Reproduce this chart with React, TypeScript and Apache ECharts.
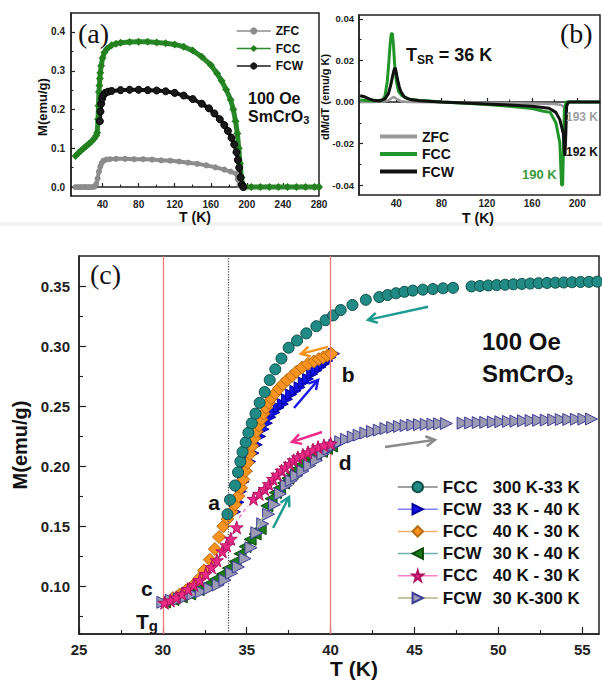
import React, { useEffect, useRef } from "react";
import * as echarts from "echarts";

type P = [number, number];
const F = '"Liberation Sans", Arial, Helvetica, sans-serif';
const SERIF = '"Liberation Serif", "Times New Roman", serif';

// ---------- Panel (a): M vs T ----------
const A_X_TICKS = [40, 80, 120, 160, 200, 240, 280];
const A_X_MINOR = [20, 60, 100, 140, 180, 220, 260];
const A_Y_TICKS = [0, 0.1, 0.2, 0.3, 0.4];
const A_Y_MINOR = [0.05, 0.15, 0.25, 0.35];
const A_ZFC: P[] = [[10,0],[13,0],[16,0],[19,0],[22,0],[25,0],[28,0],[31,0.001],[33,0.008],[34.5,0.022],[36,0.04],[37.5,0.053],[39,0.062],[41,0.068],[44,0.071],[48,0.072],[55,0.073],[65,0.073],[75,0.072],[85,0.072],[95,0.071],[105,0.069],[115,0.068],[125,0.066],[135,0.063],[145,0.06],[155,0.056],[165,0.051],[175,0.045],[182,0.04],[188,0.035],[190,0.02],[192,0.005],[195,0],[205,0],[215,0],[225,0],[235,0],[245,0],[255,0],[265,0],[275,0],[280,0]];
const A_FCC: P[] = [[10,0.08],[13,0.087],[16,0.094],[19,0.1],[22,0.106],[25,0.112],[28,0.118],[31,0.126],[33,0.133],[34,0.14],[35,0.175],[35.5,0.21],[36,0.245],[36.5,0.262],[37,0.28],[37.5,0.295],[38.5,0.313],[40,0.333],[42,0.347],[45,0.357],[50,0.366],[55,0.37],[60,0.372],[70,0.374],[80,0.375],[90,0.375],[100,0.373],[110,0.371],[120,0.368],[130,0.362],[140,0.352],[150,0.336],[160,0.315],[167,0.293],[172,0.274],[177,0.252],[182,0.225],[185,0.2],[187.5,0.17],[189.5,0.138],[191,0.1],[192.5,0.06],[194,0.025],[195.5,0.004],[198,0],[205,0],[215,0],[225,0],[235,0],[245,0],[255,0],[265,0],[275,0],[280,0]];
const A_FCW: P[] = [[37,0.17],[37.7,0.195],[38.5,0.215],[39.5,0.228],[41,0.237],[43,0.243],[46,0.246],[50,0.248],[60,0.25],[70,0.251],[80,0.251],[90,0.25],[100,0.249],[110,0.247],[120,0.243],[130,0.236],[140,0.227],[150,0.215],[158,0.203],[164,0.19],[170,0.175],[175,0.16],[179,0.145],[183,0.127],[186,0.11],[188.5,0.09],[190,0.07],[191.5,0.05],[193,0.025],[194.5,0.006],[196,0]];

// ---------- Panel (b): dM/dT vs T ----------
const B_X_TICKS = [40, 80, 120, 160, 200];
const B_X_MINOR = [20, 60, 100, 140, 180];
const B_Y_TICKS = [-0.04, -0.02, 0, 0.02, 0.04];
const B_Y_MINOR = [-0.03, -0.01, 0.01, 0.03];
const B_ZFC: P[] = [[8,0],[20,0],[30,0.0003],[34,0.001],[36,0.002],[38,0.0025],[40,0.0015],[44,0.0004],[50,0],[100,-0.0003],[150,-0.0006],[180,-0.001],[186,-0.0015],[189,-0.003],[190,-0.004],[191,-0.001],[193,0],[220,0]];
const B_FCC: P[] = [[8,0.001],[20,0.0005],[28,0.001],[30,0.003],[32,0.01],[33.5,0.02],[34.5,0.028],[35.5,0.0328],[36.5,0.033],[37.5,0.027],[38.5,0.018],[40,0.01],[42,0.005],[45,0.003],[50,0.0015],[60,0.0008],[80,0],[100,-0.0006],[120,-0.0012],[140,-0.002],[160,-0.0032],[170,-0.0045],[176,-0.005],[181,-0.01],[184.5,-0.0196],[186,-0.04],[187,-0.04],[187.8,-0.02],[188.5,-0.004],[190,0],[220,0]];
const B_FCW: P[] = [[8,0.003],[12,0.0025],[16,0.0015],[20,0.0008],[25,0.0005],[30,0.0015],[33,0.004],[35,0.008],[36.5,0.012],[38,0.0155],[39,0.0165],[40,0.014],[41,0.011],[42.5,0.0075],[44,0.005],[47,0.0025],[52,0.0012],[60,0.0006],[80,0],[100,-0.0005],[120,-0.001],[140,-0.0015],[160,-0.002],[175,-0.003],[181,-0.005],[184.5,-0.0085],[187.5,-0.015],[189,-0.026],[189.8,-0.015],[190.5,-0.002],[192,0],[220,0]];

// ---------- Panel (c): M vs T, thermal cycles ----------
const C_X_TICKS = [25, 30, 35, 40, 45, 50, 55];
const C_X_MINOR = [27.5, 32.5, 37.5, 42.5, 47.5, 52.5];
const C_Y_TICKS = [0.1, 0.15, 0.2, 0.25, 0.3, 0.35];
const C_Y_MINOR = [0.075, 0.125, 0.175, 0.225, 0.275, 0.325];
const C_REF_RED = [30, 40];
const C_REF_DOT = [33.9];
const C_FCC300: P[] = [[33.85,0.16],[34.0,0.172],[34.3,0.184],[34.48,0.195],[34.62,0.204],[34.75,0.212],[34.94,0.22],[35.1,0.228],[35.3,0.236],[35.52,0.244],[35.77,0.253],[36.07,0.262],[36.37,0.272],[36.7,0.281],[37.07,0.29],[37.5,0.299],[38.0,0.305],[38.55,0.311],[39.15,0.317],[39.7,0.322],[40.15,0.326],[40.6,0.3305],[41.3,0.3347],[42.1,0.339],[42.9,0.3413],[43.4,0.343],[43.9,0.3445],[44.4,0.3457],[44.9,0.3467],[45.5,0.3475],[46.1,0.348],[46.7,0.3486],[47.3,0.349],[48.4,0.3502],[48.9,0.3506],[49.4,0.351],[49.9,0.3513],[50.4,0.3516],[50.9,0.352],[51.4,0.3523],[51.9,0.3526],[52.4,0.3529],[52.9,0.3531],[53.4,0.3533],[53.9,0.3535],[54.4,0.3537],[54.9,0.3539],[55.4,0.354],[55.9,0.3542]];
const C_FCW33: P[] = [[34.3,0.162],[34.5,0.17],[34.65,0.179],[34.8,0.187],[35.0,0.196],[35.2,0.204],[35.4,0.211],[35.6,0.218],[35.8,0.225],[36.0,0.231],[36.2,0.236],[36.4,0.241],[36.65,0.245],[36.9,0.249],[37.15,0.252],[37.4,0.256],[37.65,0.26],[37.9,0.263],[38.15,0.266],[38.4,0.27],[38.65,0.273],[38.9,0.277],[39.15,0.28],[39.4,0.283],[39.6,0.2855],[39.8,0.288],[40.0,0.291],[40.2,0.294]];
const C_FCC40A: P[] = [[30.2,0.087],[30.6,0.09],[31.0,0.093],[31.4,0.0965],[31.8,0.1005],[32.15,0.106],[32.45,0.113],[32.8,0.122],[33.1,0.131],[33.35,0.141],[33.6,0.15],[33.85,0.156],[34.1,0.162],[34.3,0.168],[34.5,0.175],[34.66,0.182],[34.8,0.189],[34.94,0.196],[35.06,0.203],[35.2,0.2105],[35.32,0.217],[35.45,0.2235],[35.58,0.229],[35.72,0.234],[35.87,0.239],[36.0,0.244],[36.15,0.249],[36.3,0.253],[36.47,0.257],[36.7,0.261],[36.92,0.265],[37.15,0.2685],[37.4,0.272],[37.7,0.2755],[37.96,0.279],[38.3,0.2825],[38.65,0.2855],[39.0,0.2875],[39.3,0.2895],[39.55,0.291],[39.8,0.2925],[40.05,0.294]];
const C_FCW30: P[] = [[30.1,0.0868],[30.6,0.0888],[31.1,0.091],[31.6,0.0935],[32.1,0.097],[32.6,0.101],[33.1,0.1055],[33.55,0.11],[33.9,0.115],[34.3,0.1205],[34.6,0.127],[34.9,0.133],[35.2,0.139],[35.5,0.1435],[35.8,0.148],[36.2,0.167],[36.45,0.173],[36.7,0.178],[36.95,0.182],[37.2,0.186],[37.45,0.19],[37.7,0.194],[37.95,0.1975],[38.2,0.201],[38.5,0.204],[38.8,0.207],[39.1,0.2095],[39.45,0.2125],[39.75,0.215],[40.05,0.217]];
const C_FCC40B: P[] = [[30.1,0.0861],[30.45,0.088],[30.8,0.0905],[31.15,0.0935],[31.5,0.0975],[31.85,0.101],[32.2,0.105],[32.55,0.1102],[32.9,0.1158],[33.22,0.1215],[33.55,0.129],[33.8,0.134],[34.05,0.1395],[34.4,0.149],[35.4,0.1728],[35.75,0.177],[36.07,0.181],[36.32,0.185],[36.57,0.1894],[36.82,0.193],[37.07,0.1964],[37.3,0.199],[37.56,0.202],[37.8,0.205],[38.05,0.2075],[38.35,0.2095],[38.65,0.2117],[38.95,0.2138],[39.25,0.216],[39.6,0.2175],[40.0,0.219]];
const C_FCW300: P[] = [[30.0,0.0865],[30.5,0.0882],[31.0,0.0893],[31.4,0.091],[31.8,0.0932],[32.3,0.0953],[32.8,0.098],[33.3,0.101],[33.7,0.105],[34.1,0.1107],[34.5,0.116],[34.9,0.123],[35.25,0.132],[35.6,0.1445],[35.95,0.152],[36.3,0.16],[36.65,0.168],[37.0,0.177],[37.36,0.184],[37.65,0.188],[37.96,0.192],[38.35,0.196],[38.75,0.2006],[39.15,0.205],[39.54,0.2103],[39.9,0.2145],[40.25,0.2175],[40.6,0.2205],[40.95,0.2225],[41.35,0.2245],[41.7,0.226],[42.1,0.2278],[42.5,0.229],[42.9,0.2302],[43.3,0.2315],[43.7,0.2325],[44.1,0.2333],[44.5,0.234],[44.9,0.2345],[45.3,0.2348],[45.7,0.235],[46.1,0.2352],[46.5,0.2355],[46.9,0.2357],[47.9,0.236],[48.35,0.2362],[48.8,0.2365],[49.25,0.2367],[49.7,0.237],[50.15,0.2372],[50.6,0.2375],[51.05,0.2377],[51.5,0.238],[51.95,0.2382],[52.4,0.2384],[52.85,0.2386],[53.3,0.2388],[53.75,0.239],[54.2,0.2391],[54.65,0.2393],[55.1,0.2394],[55.55,0.2395]];
const C_LEGEND: [string, string, string][] = [
  ["c1", "FCC", "300 K-33 K"],
  ["c2", "FCW", "33 K - 40 K"],
  ["c3", "FCC", "40 K - 30 K"],
  ["c4", "FCW", "30 K - 40 K"],
  ["c5", "FCC", "40 K - 30 K"],
  ["c6", "FCW", "30 K-300 K"],
];
// annotation arrows in data coordinates of panel (c)
const C_ARROWS: { from: P; to: P; color: string }[] = [
  { from: [45.81, 0.3332], to: [42.23, 0.3223], color: "#1f9a90" },
  { from: [39.84, 0.2997], to: [38.23, 0.2939], color: "#f7941d" },
  { from: [37.82, 0.2487], to: [39.25, 0.2721], color: "#1a1ae6" },
  { from: [39.49, 0.2287], to: [37.7, 0.2203], color: "#ee2a8a" },
  { from: [36.57, 0.1485], to: [37.52, 0.1744], color: "#1f9a90" },
  { from: [43.24, 0.2161], to: [46.22, 0.222], color: "#8a8a8a" },
];
const C_DASHES: { from: P; to: P; color: string }[] = [
  { from: [34.55, 0.157], to: [35.05, 0.167], color: "#f080c8" },
  { from: [35.63, 0.1495], to: [35.99, 0.158], color: "#a8c8a0" },
];
const C_LETTERS: { t: string; at: P }[] = [
  { t: "a", at: [33.05, 0.1701] },
  { t: "b", at: [41.04, 0.2763] },
  { t: "c", at: [29.05, 0.0983] },
  { t: "d", at: [40.86, 0.2028] },
];
const C_TG: P = [29.05, 0.0708];

const STAR = "path://M50,0 L61,35 L98,35 L68,57 L79,91 L50,70 L21,91 L32,57 L2,35 L39,35 Z";

function valAxis(grid: number, min: number, max: number, ticks: number[], opts: any) {
  return {
    type: "value", gridIndex: grid, min, max,
    axisLine: { show: true, lineStyle: { color: "#222", width: 1.5 } },
    axisTick: { show: true, inside: true, length: opts.tickLen, customValues: ticks, lineStyle: { color: "#222", width: 1.2 } },
    axisLabel: { show: true, customValues: ticks, margin: opts.margin, fontFamily: F, fontWeight: "bold", fontSize: opts.fontSize, color: "#222", formatter: opts.fmt },
    splitLine: { show: false },
    position: opts.position,
  };
}
function minorAxis(grid: number, min: number, max: number, ticks: number[], len: number, position: string) {
  return {
    type: "value", gridIndex: grid, min, max, position,
    axisLine: { show: false },
    axisTick: { show: true, inside: true, length: len, customValues: ticks, lineStyle: { color: "#222", width: 1.1 } },
    axisLabel: { show: false },
    splitLine: { show: false },
  };
}

function cSeries(name: string, data: P[], symbol: string, size: number, fill: string, border: string, z: number, rotate = 0) {
  return {
    type: "line", name, xAxisIndex: 4, yAxisIndex: 4, data, symbol, symbolSize: size, symbolRotate: rotate,
    showSymbol: true, showAllSymbol: true, z,
    lineStyle: { width: 0, color: fill },
    itemStyle: { color: fill, borderColor: border, borderWidth: 1, opacity: 1 },
    emphasis: { disabled: true }, silent: true,
  };
}

export default function App() {
  const ref = useRef<HTMLDivElement>(null);
  useEffect(() => {
    const chart = echarts.init(ref.current!, null, { renderer: "svg" });
    const fmt1 = (v: number) => v.toFixed(1);
    const fmt2 = (v: number) => v.toFixed(2);
    const fmt0 = (v: number) => String(Math.round(v));
    const legendLine: Record<string, string> = { c1: "#808080", c2: "#8080ff", c3: "#f5b070", c4: "#70b0b0", c5: "#ff80c0", c6: "#b0b080" };
    const option: any = {
      animation: false,
      backgroundColor: "#fff",
      grid: [
        { left: 71, top: 13, width: 248, height: 183, show: true, borderColor: "#222", borderWidth: 1.5, backgroundColor: "transparent" },
        { left: 359, top: 15, width: 241, height: 180, show: true, borderColor: "#222", borderWidth: 1.5, backgroundColor: "transparent" },
        { left: 79, top: 256, width: 520, height: 378, show: true, borderColor: "#222", borderWidth: 1.5, backgroundColor: "transparent" },
      ],
      xAxis: [
        valAxis(0, 5, 280, A_X_TICKS, { tickLen: 4, margin: 3, fontSize: 10, fmt: fmt0, position: "bottom" }),
        minorAxis(0, 5, 280, A_X_MINOR, 2.5, "bottom"),
        valAxis(1, 7, 220, B_X_TICKS, { tickLen: 4, margin: 3, fontSize: 10, fmt: fmt0, position: "bottom" }),
        minorAxis(1, 7, 220, B_X_MINOR, 2.5, "bottom"),
        valAxis(2, 25, 56, C_X_TICKS, { tickLen: 7, margin: 8, fontSize: 15, fmt: fmt0, position: "bottom" }),
        minorAxis(2, 25, 56, C_X_MINOR, 4, "bottom"),
      ],
      yAxis: [
        valAxis(0, -0.023, 0.449, A_Y_TICKS, { tickLen: 4, margin: 6, fontSize: 10, fmt: fmt1, position: "left" }),
        minorAxis(0, -0.023, 0.449, A_Y_MINOR, 2.5, "left"),
        valAxis(1, -0.0448, 0.0419, B_Y_TICKS, { tickLen: 4, margin: 5, fontSize: 9.5, fmt: fmt2, position: "left" }),
        minorAxis(1, -0.0448, 0.0419, B_Y_MINOR, 2.5, "left"),
        valAxis(2, 0.06, 0.3756, C_Y_TICKS, { tickLen: 7, margin: 9, fontSize: 15, fmt: fmt2, position: "left" }),
        minorAxis(2, 0.06, 0.3756, C_Y_MINOR, 4, "left"),
      ],
      legend: [
        {
          orient: "vertical", left: 236, top: 24, padding: 0, itemWidth: 34, itemHeight: 9, itemGap: 3.5,
          data: ["ZFC", "FCC", "FCW"], selectedMode: false,
          textStyle: { fontSize: 12, fontWeight: "bold", fontFamily: F, color: "#111", lineHeight: 14 },
          lineStyle: { width: 1.5 },
        },
        {
          orient: "vertical", left: 380, top: 128, padding: 0, itemWidth: 37, itemHeight: 4, itemGap: 0.5,
          data: [
            { name: "bZFC", icon: "rect" }, { name: "bFCC", icon: "rect" }, { name: "bFCW", icon: "rect" },
          ], selectedMode: false,
          formatter: (n: string) => n.slice(1),
          textStyle: { fontSize: 14, fontWeight: "bold", fontFamily: F, color: "#111", lineHeight: 17 },
        },
        {
          orient: "vertical", left: 397, top: 478, padding: 0, itemWidth: 40, itemHeight: 13, itemGap: 4.2,
          data: C_LEGEND.map(([id]) => ({ name: id, lineStyle: { color: legendLine[id], width: 1.5, opacity: 1 } })),
          selectedMode: false,
          formatter: (n: string) => {
            const e = C_LEGEND.find((d) => d[0] === n)!;
            return `{a|${e[1]}}{b|${e[2]}}`;
          },
          textStyle: {
            fontSize: 17, fontWeight: "bold", fontFamily: F, color: "#111", lineHeight: 18,
            rich: {
              a: { width: 50, fontSize: 17, fontWeight: "bold", fontFamily: F, color: "#111" },
              b: { fontSize: 17, fontWeight: "bold", fontFamily: F, color: "#111" },
            },
          },
        },
      ],
      series: [
        { type: "line", name: "ZFC", xAxisIndex: 0, yAxisIndex: 0, data: A_ZFC, symbol: "circle", symbolSize: 6, showAllSymbol: true, lineStyle: { color: "#8c8c8c", width: 4 }, itemStyle: { color: "#8c8c8c" }, silent: true },
        { type: "line", name: "FCC", xAxisIndex: 0, yAxisIndex: 0, data: A_FCC, symbol: "diamond", symbolSize: 8, showAllSymbol: true, lineStyle: { color: "#2a8a2a", width: 5 }, itemStyle: { color: "#23801f" }, silent: true },
        { type: "line", name: "FCW", xAxisIndex: 0, yAxisIndex: 0, data: A_FCW, symbol: "circle", symbolSize: 7, showAllSymbol: true, lineStyle: { color: "#1a1a1a", width: 4 }, itemStyle: { color: "#1a1a1a", borderColor: "#000" }, silent: true },
        { type: "line", name: "bZFC", xAxisIndex: 2, yAxisIndex: 2, data: B_ZFC, symbol: "none", lineStyle: { color: "#9a9a9a", width: 2.5 }, itemStyle: { color: "#9a9a9a" }, silent: true },
        { type: "line", name: "bFCC", xAxisIndex: 2, yAxisIndex: 2, data: B_FCC, symbol: "none", lineStyle: { color: "#22952a", width: 3 }, itemStyle: { color: "#22952a" }, silent: true },
        { type: "line", name: "bFCW", xAxisIndex: 2, yAxisIndex: 2, data: B_FCW, symbol: "none", lineStyle: { color: "#111", width: 3 }, itemStyle: { color: "#111" }, silent: true },
        {
          type: "line", name: "refs", xAxisIndex: 4, yAxisIndex: 4, data: [], z: 1, silent: true,
          markLine: {
            silent: true, symbol: ["none", "none"], label: { show: false }, animation: false,
            data: [
              ...C_REF_RED.map((v) => ({ xAxis: v, lineStyle: { color: "#f07878", width: 1.3, type: "solid" } })),
              ...C_REF_DOT.map((v) => ({ xAxis: v, lineStyle: { color: "#555", width: 1.3, type: "dotted" } })),
            ],
          },
        },
        cSeries("c2", C_FCW33, "triangle", 11, "#1414e6", "#0000a0", 2, -90),
        cSeries("c3", C_FCC40A, "diamond", 13, "#f7931e", "#b86a10", 3),
        cSeries("c1", C_FCC300, "circle", 11, "#228a84", "#0f4f4a", 4),
        cSeries("c4", C_FCW30, "triangle", 12, "#1a7d1a", "#0b4a0b", 5, 90),
        cSeries("c6", C_FCW300, "triangle", 12, "#9a9ab2", "#3e3e9a", 6, -90),
        cSeries("c5", C_FCC40B, STAR, 13, "#ec2a85", "#b01060", 7),
      ],
    };
    chart.setOption(option);

    const px = (p: P) => chart.convertToPixel({ xAxisIndex: 4, yAxisIndex: 4 }, p) as number[];
    const g: any[] = [];
    const txt = (x: number, y: number, text: string, font: string, fill = "#111", align = "left", extra: any = {}) =>
      g.push({ type: "text", x, y, z: 100, silent: true, ...extra, style: { text, font, fill, align, verticalAlign: "middle", textAlign: align, textVerticalAlign: "middle" } });
    const richTxt = (x: number, y: number, text: string, rich: any, align = "left") =>
      g.push({ type: "text", x, y, z: 100, silent: true, style: { text, rich, align, verticalAlign: "middle", textAlign: align, textVerticalAlign: "middle", fill: "#111" } });

    g.push({ type: "rect", shape: { x: 0, y: 222, width: 602, height: 4 }, style: { fill: "#f2f2f2" }, z: 0, silent: true });
    // panel labels
    txt(78, 33, "(a)", `28px ${SERIF}`);
    txt(560, 33, "(b)", `28px ${SERIF}`);
    txt(90, 274, "(c)", `28px ${SERIF}`);
    // axis titles
    txt(42, 107, "M(emu/g)", `bold 13px ${F}`, "#111", "center", { rotation: Math.PI / 2 });
    txt(195, 217, "T (K)", `bold 14px ${F}`, "#111", "center");
    txt(325, 97, "dM/dT (emu/g K)", `bold 11px ${F}`, "#111", "center", { rotation: Math.PI / 2 });
    txt(478, 218, "T (K)", `bold 14px ${F}`, "#111", "center");
    txt(20, 445, "M(emu/g)", `bold 20px ${F}`, "#111", "center", { rotation: Math.PI / 2 });
    txt(354, 668, "T (K)", `bold 21px ${F}`, "#111", "center");
    // panel (a) texts
    txt(248, 98, "100 Oe", `bold 16px ${F}`);
    richTxt(248, 116, "{m|SmCrO}{s|3}", {
      m: { fontSize: 16, fontWeight: "bold", fontFamily: F, color: "#111", lineHeight: 19 },
      s: { fontSize: 11, fontWeight: "bold", fontFamily: F, color: "#111", verticalAlign: "bottom", lineHeight: 19 },
    });
    // panel (b) texts
    richTxt(406, 55, "{m|T}{s|SR}{m| = 36 K}", {
      m: { fontSize: 18, fontWeight: "bold", fontFamily: F, color: "#111", lineHeight: 21 },
      s: { fontSize: 12, fontWeight: "bold", fontFamily: F, color: "#111", verticalAlign: "bottom", lineHeight: 21 },
    });
    txt(566, 117, "193 K", `bold 12px ${F}`, "#a0a0a0");
    txt(566, 152, "192 K", `bold 12px ${F}`, "#111");
    txt(522, 174, "190 K", `bold 13px ${F}`, "#3a9a3a");
    // panel (c) texts
    txt(482, 341, "100 Oe", `bold 24px ${F}`);
    richTxt(482, 373, "{m|SmCrO}{s|3}", {
      m: { fontSize: 24, fontWeight: "bold", fontFamily: F, color: "#111", lineHeight: 28 },
      s: { fontSize: 15, fontWeight: "bold", fontFamily: F, color: "#111", verticalAlign: "bottom", lineHeight: 28 },
    });
    C_LETTERS.forEach((l) => {
      const p = px(l.at);
      txt(p[0], p[1], l.t, `bold 21px ${F}`, "#111", "center");
    });
    const tg = px(C_TG);
    richTxt(tg[0], tg[1], "{m|T}{s|g}", {
      m: { fontSize: 21, fontWeight: "bold", fontFamily: F, color: "#111", lineHeight: 24 },
      s: { fontSize: 15, fontWeight: "bold", fontFamily: F, color: "#111", verticalAlign: "bottom", lineHeight: 24 },
    }, "center");
    C_DASHES.forEach((d) => {
      const a = px(d.from), b = px(d.to);
      g.push({ type: "line", z: 99, silent: true, shape: { x1: a[0], y1: a[1], x2: b[0], y2: b[1] }, style: { stroke: d.color, lineWidth: 1.5, lineDash: [4, 3] } });
    });
    C_ARROWS.forEach((ar) => {
      const a = px(ar.from), b = px(ar.to);
      const dx = b[0] - a[0], dy = b[1] - a[1];
      const len = Math.hypot(dx, dy);
      const ux = dx / len, uy = dy / len;
      const hl = 9, hw = 5;
      const bx = b[0] - ux * hl, by = b[1] - uy * hl;
      g.push({ type: "line", z: 101, silent: true, shape: { x1: a[0], y1: a[1], x2: b[0] - ux * 1, y2: b[1] - uy * 1 }, style: { stroke: ar.color, lineWidth: 2.5 } });
      g.push({ type: "polyline", z: 101, silent: true, shape: { points: [[bx - uy * hw, by + ux * hw], [b[0], b[1]], [bx + uy * hw, by - ux * hw]] }, style: { stroke: ar.color, lineWidth: 2.5, fill: "none" } });
    });
    chart.setOption({ graphic: g });
    return () => chart.dispose();
  }, []);
  return <div ref={ref} style={{ position: "fixed", left: 0, top: 0, width: 602, height: 681, background: "#fff" }} />;
}
